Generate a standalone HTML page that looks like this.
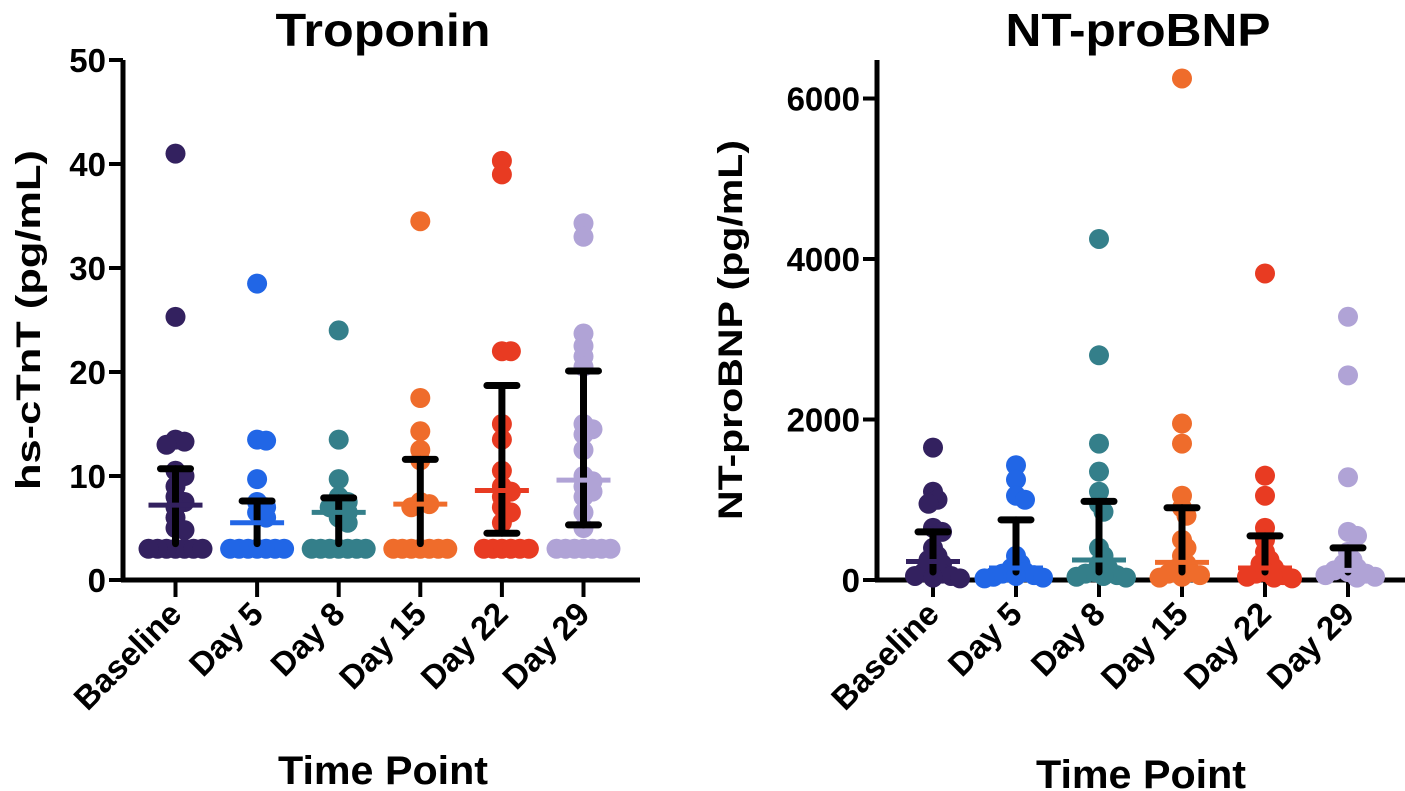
<!DOCTYPE html>
<html><head><meta charset="utf-8"><style>
html,body{margin:0;padding:0;background:#fff;}
svg{display:block;font-family:"Liberation Sans",Arial,sans-serif;font-weight:bold;}
</style></head><body>
<svg id="c" width="1405" height="791" viewBox="0 0 1405 791"></svg>
<script>
const categories = ["Baseline","Day 5","Day 8","Day 15","Day 22","Day 29"];
const colors = ["#33215f","#2166e6","#347f8a","#ef6c2b","#e83b22","#b0a3d6"];

const tropBaseline = [41,25.3,13.5,13.3,13,10.5,10,9,8,7.5,7,6,5,4.8,3,3,3,3,3,3,3];
const tropDay5 = [28.5,13.5,13.4,9.7,7.5,7,6.5,6,3,3,3,3,3,3,3];
const tropDay8 = [24,13.5,9.7,8,7.5,7,7,6.5,6,5.5,3,3,3,3,3,3,3];
const tropDay15 = [34.5,17.5,14.3,12.5,11.5,7.5,7.3,7,3,3,3,3,3,3,3];
const tropDay22 = [40.3,39,22,22,15,13.5,10.5,9,8.5,8,7,6.5,5.5,3,3,3,3,3,3];
const tropDay29 = [34.3,33,23.7,22.5,21.5,20.5,15,14.5,14,12.5,10,9.5,9,8.5,8,6.5,5,3,3,3,3,3,3,3];
const tropMean = [7.2,5.5,6.5,7.3,8.6,9.6];
const tropSdLow = [3.5,3.5,3.5,3.5,4.5,5.3];
const tropSdHigh = [10.7,7.6,7.9,11.6,18.7,20.1];
const tropTicks = [0,10,20,30,40,50];

const bnpBaseline = [1650,1100,1000,950,650,600,400,300,250,200,150,100,80,50,50,30,20];
const bnpDay5 = [1430,1250,1050,1000,300,200,150,100,80,60,50,40,30,20];
const bnpDay8 = [4250,2800,1700,1350,1100,950,850,400,300,200,150,100,80,60,50,40,30];
const bnpDay15 = [6250,1950,1700,1050,900,800,500,400,300,200,150,100,80,60,40,30];
const bnpDay22 = [3820,1300,1050,650,500,350,250,200,150,100,80,60,40,30,20];
const bnpDay29 = [3280,2550,1280,600,550,350,250,200,150,120,100,80,60,40,30];
const bnpMean = [230,150,250,220,150,120];
const bnpSdLow = [100,100,100,100,100,100];
const bnpSdHigh = [600,750,980,900,550,400];
const bnpTicks = [0,2000,4000,6000];

const NS="http://www.w3.org/2000/svg";
const svg=document.getElementById('c');
function mk(tag,attrs,parent){const e=document.createElementNS(NS,tag);for(const k in attrs)e.setAttribute(k,attrs[k]);(parent||svg).appendChild(e);return e;}

function panel(p){
  const g=mk('g',{});
  
  
  const y=v=>p.y0-(v-p.ymin)/(p.ymax-p.ymin)*(p.y0-p.yTop);
  const x=i=>p.x0+i*p.step;
  const t=mk('text',{x:p.titleX,y:46,'text-anchor':'middle','font-size':46,textLength:p.titleLen,lengthAdjust:'spacingAndGlyphs'},g);t.textContent=p.title;
  
  
  const yt=mk('text',{transform:`translate(${p.ytX},${p.ytY}) rotate(-90)`,'text-anchor':'middle','font-size':34,textLength:p.ytLen,lengthAdjust:'spacingAndGlyphs'},g);yt.textContent=p.ytitle;
  
  
  const xt=mk('text',{x:p.xtX,y:p.xtY,'text-anchor':'middle','font-size':40,textLength:210,lengthAdjust:'spacingAndGlyphs'},g);xt.textContent="Time Point";
  
  
  const ya=mk('line',{x1:p.ax,y1:p.yTop,x2:p.ax,y2:p.y0+2,stroke:'#000','stroke-width':5},g);
  
  
  const xa=mk('line',{x1:p.ax-2,y1:p.y0,x2:p.axEnd,y2:p.y0,stroke:'#000','stroke-width':5},g);
  
  
  p.ticks.forEach(v=>{
    mk('line',{x1:p.ax-14,y1:y(v),x2:p.ax,y2:y(v),stroke:'#000','stroke-width':4},g);
    const tl=mk('text',{x:p.ax-17,y:y(v)+12,'text-anchor':'end','font-size':33},g);tl.textContent=v;
    
    
  });
  categories.forEach((c,i)=>{
    mk('line',{x1:x(i),y1:p.y0,x2:x(i),y2:p.y0+17,stroke:'#000','stroke-width':4},g);
    const tl=mk('text',{transform:`translate(${x(i)+8},${p.y0+36}) rotate(-45)`,'text-anchor':'end','font-size':33},g);tl.textContent=c;
    
    
  });
  const r=10, minD=9;
  p.groups.forEach((vals,i)=>{
    const gg=mk('g',{},g);
    
    
    const placed=[];
    vals.slice().sort((a,b)=>b-a).forEach(v=>{
      const py=y(v);let off=0;
      for(let k=0;k<80;k++){
        const cand=k===0?0:(k%2?1:-1)*Math.ceil(k/2)*minD/2;
        if(placed.every(q=>Math.hypot(q[0]-cand,q[1]-py)>=minD)){off=cand;break;}
      }
      placed.push([off,py]);
      const d=mk('circle',{cx:x(i)+off,cy:py,r:r,fill:colors[i]},gg);
      
      
    });
    const eb=mk('g',{stroke:'#000','stroke-width':7,'stroke-linecap':'round'},gg);
    
    
    mk('line',{x1:x(i),y1:y(p.sdHigh[i]),x2:x(i),y2:y(p.sdLow[i])},eb);
    mk('line',{x1:x(i)-15,y1:y(p.sdHigh[i]),x2:x(i)+15,y2:y(p.sdHigh[i])},eb);
    if(p.showLow[i]) mk('line',{x1:x(i)-15,y1:y(p.sdLow[i]),x2:x(i)+15,y2:y(p.sdLow[i])},eb);
    const m=mk('line',{x1:x(i)-27,y1:y(p.mean[i]),x2:x(i)+27,y2:y(p.mean[i]),stroke:colors[i],'stroke-width':5},gg);
    
    
  });
}
panel({name:'troponin-panel',title:'Troponin',titleLen:215,titleX:383,ytitle:'hs-cTnT (pg/mL)',ytLen:340,ytX:40,ytY:320,xtX:383,xtY:784,
  ax:123,axEnd:640,x0:175.5,step:81.6,y0:580,yTop:60,ymin:0,ymax:50,ticks:tropTicks,
  groups:[tropBaseline,tropDay5,tropDay8,tropDay15,tropDay22,tropDay29],mean:tropMean,sdLow:tropSdLow,sdHigh:tropSdHigh,
  showLow:[false,false,false,false,true,true]});
panel({name:'ntprobnp-panel',title:'NT-proBNP',titleLen:265,titleX:1138,ytitle:'NT-proBNP (pg/mL)',ytLen:380,ytX:742,ytY:330,xtX:1141,xtY:788,
  ax:877,axEnd:1405,x0:933,step:83,y0:580,yTop:60,ymin:0,ymax:6480,ticks:bnpTicks,
  groups:[bnpBaseline,bnpDay5,bnpDay8,bnpDay15,bnpDay22,bnpDay29],mean:bnpMean,sdLow:bnpSdLow,sdHigh:bnpSdHigh,
  showLow:[false,false,false,false,false,false]});
</script>
</body></html>
